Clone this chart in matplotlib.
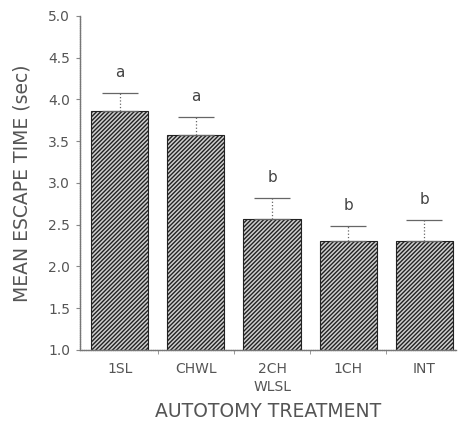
import matplotlib
matplotlib.use("Agg")
import matplotlib.pyplot as plt
import numpy as np

categories = ["1SL", "CHWL", "2CH\nWLSL", "1CH", "INT"]
means = [3.86, 3.57, 2.57, 2.31, 2.31]
errors = [0.22, 0.22, 0.25, 0.18, 0.25]
letters = ["a", "a", "b", "b", "b"]
yticks = [1.0, 1.5, 2.0, 2.5, 3.0, 3.5, 4.0, 4.5, 5.0]

plt.rcParams['hatch.linewidth'] = 1.0
plt.rcParams['font.family'] = ['DejaVu Sans']
txt = '#555555'

fig = plt.figure(figsize=(4.58, 4.25), dpi=100)
ax = fig.add_axes([0.1747, 0.1765, 0.822, 0.786])

x = np.arange(len(categories))
ax.bar(x, [m - 1.0 for m in means], bottom=1.0, width=0.75, color='#cfcfcf',
       edgecolor='#222222', hatch='////////', linewidth=0.8)
eb = ax.errorbar(x, means, yerr=[np.zeros(len(means)), errors], fmt='none',
                 ecolor='#666666', elinewidth=0.9, capsize=13, capthick=0.9)
eb[2][0].set_linestyle(':')
for xi, m, e, l in zip(x, means, errors, letters):
    ax.text(xi, m + e + 0.24, l, ha='center', va='center', fontsize=11, color='#444444')

ax.set_xlim(-0.52, 4.42)
ax.set_ylim(1.0, 5.0)
ax.set_yticks(yticks)
ax.set_yticklabels([f"{v:.1f}" for v in yticks], fontsize=10, color=txt)
ax.set_xticks(x)
ax.set_xticklabels(categories, fontsize=10, color=txt, linespacing=1.3)
ax.set_xticks([0.5, 1.5, 2.5, 3.5], minor=True)
ax.tick_params(axis='x', which='major', length=0, pad=9)
ax.tick_params(axis='x', which='minor', length=3, color='#888888')
ax.tick_params(axis='y', length=3, pad=4, color='#888888')
for s in ['top', 'right']:
    ax.spines[s].set_visible(False)
for s in ['left', 'bottom']:
    ax.spines[s].set_color('#777777')
    ax.spines[s].set_linestyle((0, (1, 0.6)))
    ax.spines[s].set_linewidth(1.0)

ax.set_xlabel("AUTOTOMY TREATMENT", fontsize=13.5, color=txt, labelpad=6)
ax.set_ylabel("MEAN ESCAPE TIME (sec)", fontsize=13.5, color=txt, labelpad=12)

fig.savefig("out.png", dpi=100)
